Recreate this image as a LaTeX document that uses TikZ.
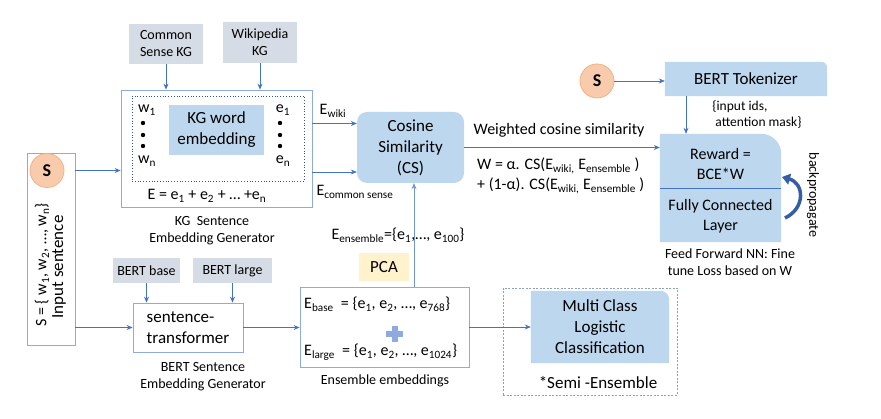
\documentclass[tikz,border=0pt]{standalone}
\usepackage{fontspec}
\setmainfont{Carlito}
\usepackage{xcolor}
\usepackage{tikz}
\usetikzlibrary{arrows.meta,positioning,backgrounds,calc}
\definecolor{kgblue}{HTML}{BDD7EE}
\definecolor{kggray}{HTML}{D6DCE5}
\definecolor{lineblue}{HTML}{4472C4}
\definecolor{edgeblue}{HTML}{8FAADC}
\definecolor{sorange}{HTML}{F8CBAD}
\definecolor{sborder}{HTML}{F4B183}
\definecolor{pcayellow}{HTML}{FFF2CC}
\definecolor{dotblue}{HTML}{2F5597}
\definecolor{slateblue}{HTML}{8EA0C0}
\newcommand{\sub}[1]{\textsubscript{#1}}
\newcommand{\bigtxt}{\fontsize{17}{21}\selectfont}
\newcommand{\midtxt}{\fontsize{16}{20}\selectfont}
\newcommand{\smalltxt}{\fontsize{14}{17}\selectfont}
\newcommand{\tabfill}[2]{\fill[kgblue] (#1.south west) -- (#1.north west) -- ([xshift=-#2]#1.north east) arc[start angle=90,end angle=0,radius=#2] -- (#1.south east) -- cycle;}

\begin{document}
\begin{tikzpicture}[
			x=1pt, y=-1pt,
			arrow/.style={-{Stealth[length=6pt,width=5pt]}, lineblue, line width=0.75pt},
			backarrow/.style={-{Triangle[length=8pt,width=11pt]}, line width=3.5pt, draw=dotblue!70!lineblue},
			kgbox/.style={rectangle, fill=kggray, minimum width=74pt, minimum height=40pt, align=center, inner sep=0pt, font=\smalltxt},
			outline/.style={rectangle, draw=edgeblue, line width=0.8pt, inner sep=0pt},
			bluebox/.style={rectangle, fill=kgblue, align=center, inner sep=0pt, font=\bigtxt},
			tabbox/.style={rectangle, align=center, inner sep=0pt, font=\bigtxt},
			scircle/.style={circle, draw=sborder, fill=sorange, line width=0.8pt, minimum size=34pt, inner sep=0pt, font=\fontsize{18}{20}\selectfont\bfseries},
			txt/.style={inner sep=0pt, align=center, font=\smalltxt}
			]
			\useasboundingbox (0,0) rectangle (881,419);
			
			% Knowledge graph sources
			\node[kgbox] (cskg) at (166,44) {Common\\Sense KG};
			\node[kgbox, minimum height=41pt] (wikikg) at (260,42.5) {Wikipedia\\KG};
			
			% KG sentence embedding generator
			\node[outline, minimum width=191pt, minimum height=117pt] (kggen) at (216.5,148.5) {};
			\node[rectangle, draw=dotblue, dotted, line width=0.8pt, minimum width=172pt, minimum height=85pt] (kginner) at (218,138.5) {};
			\node[bluebox, minimum width=95pt, minimum height=50pt] (kgword) at (216.5,130) {KG word\\embedding};
			\node[txt, font=\midtxt] (w1) at (147,110) {w\sub{1}};
			\node[txt, font=\midtxt] (wn) at (147,161) {w\sub{n}};
			\node[txt, font=\midtxt] (e1) at (283,110) {e\sub{1}};
			\node[txt, font=\midtxt] (en) at (283,161) {e\sub{n}};
			\foreach \y in {123,135,146} {
				\fill (143,\y) circle (2.2pt);
				\fill (280,\y) circle (2.2pt);
			}
			\node[txt, font=\midtxt] (esum) at (207,196) {E = e\sub{1} + e\sub{2} + … +e\sub{n}};
			\node[txt] (kglabel) at (212,231) {KG~ Sentence\\Embedding Generator};
			
			% Input sentence
			\node[outline, minimum width=48pt, minimum height=192pt] (input) at (51,249) {};
			\node[scircle] (s1) at (47,170.5) {S};
			\node[txt, font=\midtxt, rotate=90] (sset) at (42,265) {S = \{ w\sub{1}, w\sub{2}, …, w\sub{n}\}};
			\node[txt, font=\bigtxt, rotate=90] (inlabel) at (59,267) {Input sentence};
			
			% BERT sentence embedding generator
			\node[kgbox, minimum width=67pt, minimum height=25pt] (bbase) at (146.5,270.5) {BERT base};
			\node[kgbox, minimum width=79pt, minimum height=25pt] (blarge) at (232.5,270.5) {BERT large};
			\node[outline, minimum width=110pt, minimum height=49pt, font=\bigtxt, align=left] (st) at (188,327.5) {sentence-\\transformer};
			\node[txt] (stlabel) at (203,377) {BERT Sentence\\Embedding Generator};
			
			% Ensemble embeddings
			\node[outline, minimum width=169pt, minimum height=80pt] (ens) at (384.5,327) {};
			\node[txt, font=\midtxt, anchor=west] (ebase) at (304,304) {E\sub{base}~ = \{e\sub{1}, e\sub{2}, …, e\sub{768}\}};
			\node[txt, font=\midtxt, anchor=west] (elarge) at (304,352) {E\sub{large}~ = \{e\sub{1}, e\sub{2}, …, e\sub{1024}\}};
			\fill[edgeblue] (386,331) rectangle (403,337);
			\fill[edgeblue] (391.5,326) rectangle (397.5,342);
			\node[txt] (enslabel) at (385,381) {Ensemble embeddings};
			\node[rectangle, fill=pcayellow, minimum width=50pt, minimum height=28pt, inner sep=0pt, font=\bigtxt] (pca) at (384,267.5) {PCA};
			\node[txt, font=\midtxt] (eens) at (398,235) {E\sub{ensemble}=\{e\sub{1},…, e\sub{100}\}};
			
			% Cosine similarity
			\node[bluebox, rounded corners=10pt, minimum width=107pt, minimum height=71pt] (cosine) at (410.5,147.5) {Cosine\\Similarity\\(CS)};
			\node[txt, font=\midtxt] (ewiki) at (333,111) {E\sub{wiki}};
			\node[txt, font=\midtxt] (ecs) at (355,192) {E\sub{common sense}};
			\node[txt, font=\midtxt] (wlabel) at (559,130) {Weighted cosine similarity};
			\node[txt, font=\midtxt, anchor=north west, align=left] (wform) at (477,158) {W = α. CS(E\sub{wiki,} E\sub{ensemble} )\\+ (1-α). CS(E\sub{wiki,} E\sub{ensemble} )};
			
			% Reward / fully connected layer
			\node[tabbox, minimum width=121pt, minimum height=108pt] (reward) at (720.5,188) {};
			\node[txt, font=\midtxt] (rtext) at (720.5,164) {Reward =\\BCE*W};
			\node[txt, font=\midtxt] (fctext) at (720.5,216.5) {Fully Connected\\Layer};
			\draw[lineblue, line width=0.8pt] (reward.west) -- (reward.east);
			\node[txt] (fflabel) at (730,262) {Feed Forward NN: Fine\\tune Loss based on W};
			\node[txt, rotate=-90] (bplabel) at (813,195) {backpropagate};
			\coordinate (bpa) at (785,218);
			\coordinate (bpb) at (782,177);
			
			% BERT tokenizer
			\node[tabbox, minimum width=162pt, minimum height=34pt] (tok) at (746,79) {BERT Tokenizer};
			\node[scircle] (s2) at (597,81) {S};
			\node[txt, align=left, font=\fontsize{13.5}{16}\selectfont] (tokout) at (757,115) {\{input ids,\\~attention mask\}};
			
			% Multi class classification
			\node[rectangle, draw=slateblue, dash pattern=on 2pt off 1.5pt, line width=0.8pt, minimum width=174pt, minimum height=107pt] (semi) at (590,341.5) {};
			\node[tabbox, minimum width=138pt, minimum height=72pt] (mlc) at (600,327) {Multi Class\\Logistic\\Classification};
			\node[txt, font=\bigtxt] (semilabel) at (598,383) {*Semi -Ensemble};
			
			\begin{scope}[on background layer]
				\tabfill{tok}{6pt}
				\tabfill{reward}{20pt}
				\tabfill{mlc}{9pt}
			\end{scope}
			
			% Connections
			\draw[arrow] (cskg.south) -- (cskg.south |- kggen.north);
			\draw[arrow] (wikikg.south) -- (wikikg.south |- kggen.north);
			\draw[arrow] (s1 -| input.east) -- (s1 -| kggen.west);
			\draw[arrow] ([yshift=25pt]kggen.east) -- ([yshift=25pt]kggen.east -| cosine.west);
			\draw[arrow] ([yshift=-23.5pt]kggen.east) -- ([yshift=-23.5pt]kggen.east -| cosine.west);
			\draw[arrow] (cosine.east) -- (cosine.east -| reward.west);
			\draw[arrow] (bbase.south) -- (bbase.south |- st.north);
			\draw[arrow] (blarge.south) -- (blarge.south |- st.north);
			\draw[arrow] (st.west -| input.east) -- (st.west);
			\draw[arrow] (st.east) -- (st.east -| ens.west);
			\draw[arrow, edgeblue!60!lineblue] ([xshift=3.5pt]cosine.south |- ens.north) -- ([xshift=3.5pt]cosine.south);
			\draw[arrow] (ens.east) -- (ens.east -| mlc.west);
			\draw[arrow] (s2.east) -- (s2 -| tok.west);
			\draw[arrow] ([xshift=-60pt]tok.south) -- ([xshift=-60pt]tok.south |- reward.north);
			\draw[backarrow] (bpa) .. controls (806,208) and (804,183) .. (bpb);
			
		\end{tikzpicture}
\end{document}
